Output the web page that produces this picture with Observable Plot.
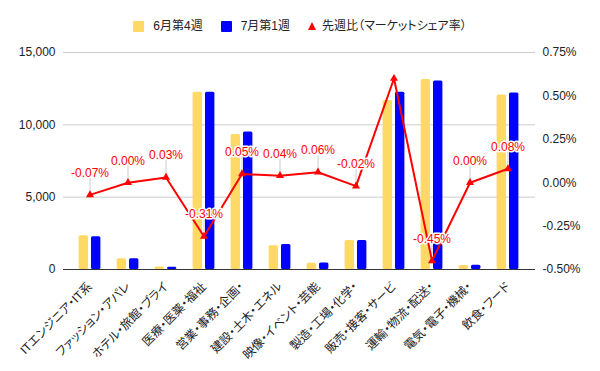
<!DOCTYPE html>
<html>
<head>
<meta charset="utf-8">
<script src="https://cdn.jsdelivr.net/npm/d3@7"></script>
<script src="https://cdn.jsdelivr.net/npm/@observablehq/plot@0.6"></script>
<style>
  body { margin: 0; background: #fff; font-family: "Liberation Sans", Arial, "Noto Sans CJK JP", sans-serif; }
  #legend { height: 40px; box-sizing: border-box; padding-top: 20px; display: flex; justify-content: center; align-items: flex-start; font-size: 12px; line-height: 12px; color: #222; font-feature-settings: "palt"; }
  .item { display: flex; align-items: center; margin: 0 9px; }
  .sw { width: 11px; height: 11px; border-radius: 1px; margin-right: 9px; }
  .tri { width: 0; height: 0; border-left: 4px solid transparent; border-right: 4px solid transparent; border-bottom: 8px solid #ff0000; margin-right: 6px; }
  #chart svg { font-feature-settings: "palt"; }
</style>
</head>
<body>
<div id="legend"></div>
<div id="chart"></div>
<script>
const categories = ["ITエンジニア・IT系","ファッション・アパレ","ホテル・旅館・ブライ","医療・医薬・福祉","営業・事務・企画・","建設・土木・エネル","映像・イベント・芸能","製造・工場・化学・","販売・接客・サービ","運輸・物流・配送・","電気・電子・機械・","飲食・フード"];
const seriesNames = ["6月第4週", "7月第1週", "先週比（マーケットシェア率）"];
const june4 = [2340, 740, 170, 12250, 9340, 1650, 440, 2000, 11690, 13140, 275, 12060];
const july1 = [2270, 750, 150, 12250, 9500, 1720, 450, 2000, 12260, 13030, 295, 12200];
const shareChange = [-0.07, 0.00, 0.03, -0.31, 0.05, 0.04, 0.06, -0.02, 0.60, -0.45, 0.00, 0.08];
const labelShown = [true, true, true, true, true, true, true, true, false, true, true, true];
const leftTicks = [0, 5000, 10000, 15000];
const rightTicks = [-0.50, -0.25, 0.00, 0.25, 0.50, 0.75];

const colors = ["#ffd966", "#0000ff", "#ff0000"];

// right axis (-0.5 .. 0.75) mapped onto left axis (0 .. 15000)
const toLeft = r => (r + 0.5) / 1.25 * 15000;
const toRight = v => v / 15000 * 1.25 - 0.5;

const rows = categories.map((c, i) => ({
  cat: c, june: june4[i], july: july1[i], share: shareChange[i],
  shareY: toLeft(shareChange[i]),
  label: labelShown[i] ? shareChange[i].toFixed(2) + "%" : null
}));

// legend
const legend = document.getElementById("legend");
seriesNames.forEach((name, i) => {
  const it = document.createElement("div");
  it.className = "item";
  const sw = document.createElement("div");
  if (i < 2) { sw.className = "sw"; sw.style.background = colors[i]; }
  else { sw.className = "tri"; }
  const tx = document.createElement("span");
  tx.textContent = name;
  it.appendChild(sw); it.appendChild(tx);
  legend.appendChild(it);
});

const leader = { draw(ctx, l) { ctx.moveTo(0, 0); ctx.lineTo(0, -l); } };

const chart = Plot.plot({
  width: 600,
  height: 331,
  marginTop: 12,
  marginBottom: 102,
  marginLeft: 63,
  marginRight: 65,
  style: { fontFamily: '"Liberation Sans", Arial, "Noto Sans CJK JP", sans-serif', fontSize: "12px", color: "#222", background: "#fff" },
  x: { domain: categories, padding: 0.28, label: null, axis: null },
  y: { domain: [0, 15000], nice: false, label: null, axis: null },
  marks: [
    Plot.gridY(leftTicks, { stroke: "#cccccc", strokeOpacity: 1 }),
    Plot.axisY(leftTicks, { anchor: "left", tickSize: 0, tickPadding: 8, tickFormat: d => d3.format(",")(d), label: null, fill: "#222" }),
    Plot.axisY(rightTicks.map(toLeft), { anchor: "right", tickSize: 0, tickPadding: 7, tickFormat: d => toRight(d).toFixed(2) + "%", label: null, fill: "#222" }),
    Plot.axisX({ anchor: "bottom", tickSize: 0, tickPadding: 15, tickRotate: -45, label: null, fill: "#222" }),
    Plot.barY(rows, { x: "cat", y: "june", fill: colors[0], insetLeft: 2.6, insetRight: 15.0, rx: 1.5 }),
    Plot.barY(rows, { x: "cat", y: "july", fill: colors[1], insetLeft: 15.0, insetRight: 2.6, rx: 1.5 }),
    Plot.ruleY([0], { stroke: "#333", strokeWidth: 1 }),
    Plot.vector(rows.filter(d => d.label), { x: "cat", y: "shareY", length: 15, rotate: 0, anchor: "start", dy: -2, stroke: "#cccccc", strokeWidth: 1, shape: leader }),
    Plot.line(rows, { x: "cat", y: "shareY", stroke: colors[2], strokeWidth: 2 }),
    Plot.dot(rows, { x: "cat", y: "shareY", symbol: "triangle", r: 3, fill: colors[2], stroke: "none" }),
    Plot.text(rows.filter(d => d.label), { x: "cat", y: "shareY", text: "label", dy: -22, fill: colors[2], stroke: "#fff", strokeWidth: 3, paintOrder: "stroke", fontSize: 12 })
  ]
});
document.getElementById("chart").appendChild(chart);
</script>
</body>
</html>
